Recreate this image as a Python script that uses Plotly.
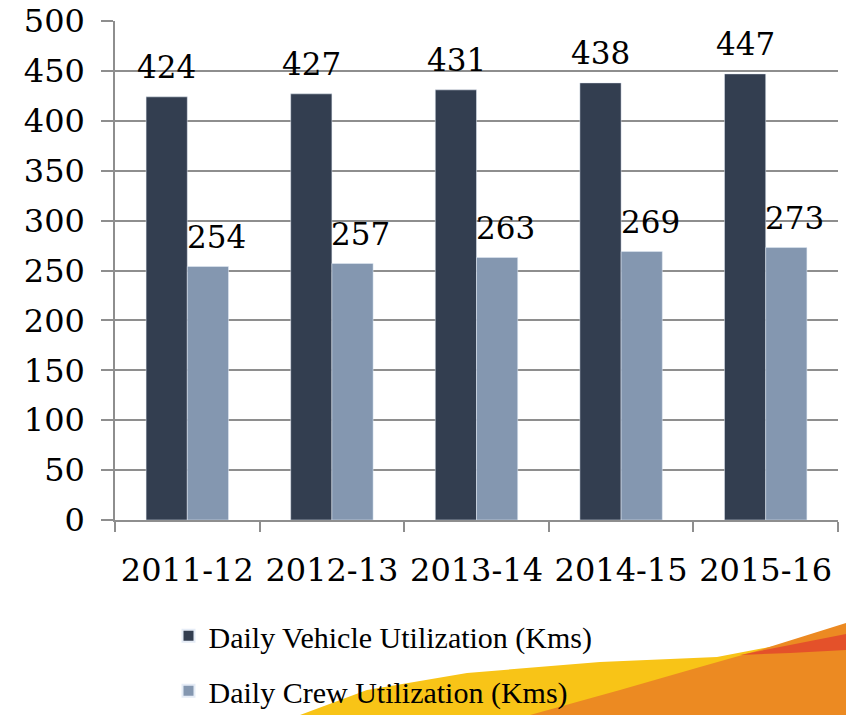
import plotly.graph_objects as go

categories = ["2011-12", "2012-13", "2013-14", "2014-15", "2015-16"]
vehicle = [424, 427, 431, 438, 447]
crew = [254, 257, 263, 269, 273]
series_names = ["Daily Vehicle Utilization (Kms)", "Daily Crew Utilization (Kms)"]
y_ticks = [0, 50, 100, 150, 200, 250, 300, 350, 400, 450, 500]

DARK = "#333e50"
LIGHT = "#8497b0"
GRID = "#8e8e8e"
FONT = "DejaVu Serif"

W, H = 846, 715
ML, MR, MT, MB = 115, 8, 21, 195
PW, PH = W - ML - MR, H - MT - MB


def px(x, y):
    return (x - ML) / PW, (H - MB - y) / PH


def path(points):
    segs = []
    for i, (x, y) in enumerate(points):
        a, b = px(x, y)
        segs.append(("M" if i == 0 else "L") + f"{a:.4f},{b:.4f}")
    return " ".join(segs) + " Z"


fig = go.Figure()
fig.add_trace(go.Bar(name=series_names[0], x=categories, y=vehicle, marker_color=DARK, legendgroup="a"))
fig.add_trace(go.Bar(name=series_names[1], x=categories, y=crew, marker_color=LIGHT, legendgroup="b"))

for vals, shift in ((vehicle, -20.5), (crew, 29)):
    for c, v in zip(categories, vals):
        fig.add_annotation(x=c, y=v, text=str(v), showarrow=False, xshift=shift,
                           yanchor="bottom", yshift=10,
                           font=dict(family=FONT, size=31, color="#000"))

# decorative swoosh in the lower-right background
swoosh = [
    ([(300, 715), (367, 690), (467, 673), (600, 662), (717, 657), (780, 645), (846, 625), (846, 715)], "#f8c417"),
    ([(530, 715), (620, 690), (700, 667), (760, 650), (846, 623), (846, 715)], "#ec8a22"),
    ([(740, 655), (790, 645), (846, 634), (846, 650), (790, 653)], "#e4512a"),
]
for pts, col in swoosh:
    fig.add_shape(type="path", path=path(pts), xref="paper", yref="paper",
                  fillcolor=col, line=dict(width=0), layer="below")

fig.update_layout(
    width=W, height=H,
    margin=dict(l=ML, r=MR, t=MT, b=MB, autoexpand=False),
    paper_bgcolor="white", plot_bgcolor="rgba(0,0,0,0)",
    barmode="group", bargap=0.43, bargroupgap=0,
    font=dict(family=FONT, size=31, color="#000"),
    showlegend=True,
    legend=dict(orientation="v", x=0.074, xanchor="left", y=-0.18, yanchor="top",
                font=dict(family="Liberation Serif", size=30, color="#000"),
                itemsizing="constant", traceorder="grouped", tracegroupgap=13,
                bgcolor="rgba(0,0,0,0)"),
)
fig.update_xaxes(type="category", automargin=False, showline=True, linecolor=GRID, linewidth=1.5,
                 ticks="outside", tickson="boundaries", ticklen=10, tickcolor=GRID, tickwidth=1.5,
                 showgrid=False, tickfont=dict(family=FONT, size=32), ticklabelstandoff=21)
fig.update_yaxes(range=[0, 500], tickvals=y_ticks, automargin=False, showline=True, linecolor=GRID,
                 linewidth=1.5, ticks="outside", ticklen=12, tickcolor=GRID, tickwidth=1.5,
                 showgrid=True, gridcolor=GRID, gridwidth=1.5, zeroline=False,
                 tickfont=dict(family=FONT, size=32), ticklabelstandoff=10)

fig.write_html("out.html", config={"displayModeBar": False},
               post_script="document.body.style.margin='0';document.body.style.overflow='hidden';")
